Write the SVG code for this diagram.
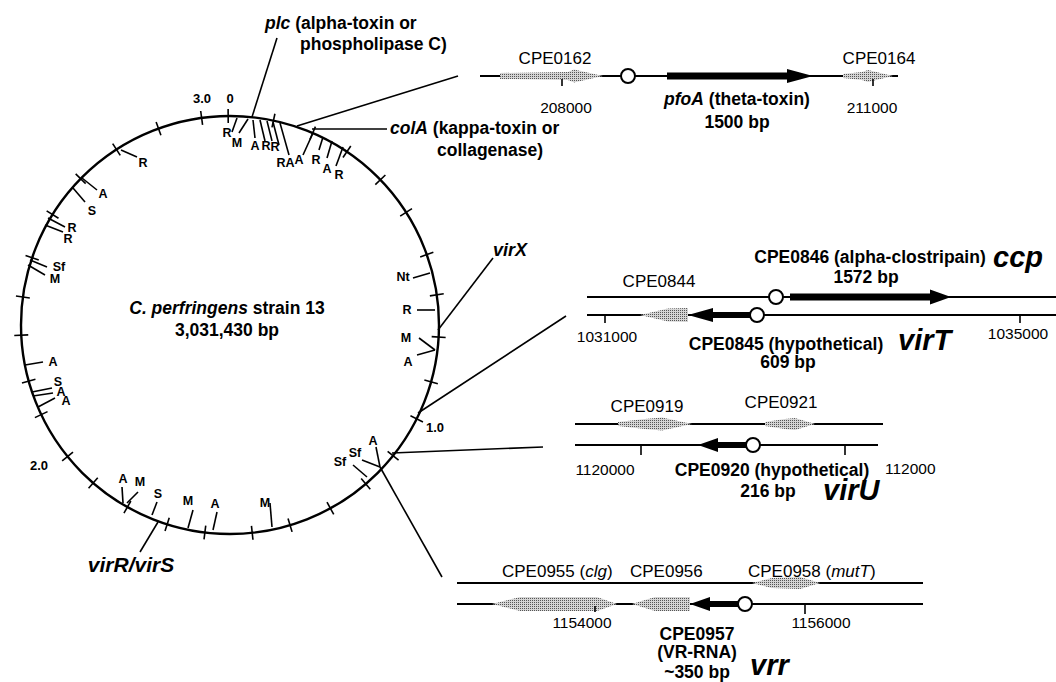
<svg xmlns="http://www.w3.org/2000/svg" width="1056" height="682" viewBox="0 0 1056 682">
<defs>
<pattern id="dots" width="2" height="2" patternUnits="userSpaceOnUse"><rect width="2" height="2" fill="#d4d4d4"/><rect width="1" height="1" fill="#555"/></pattern>
</defs>
<style>
text{font-family:"Liberation Sans",Arial,sans-serif;fill:#000}
.i{font-style:italic}
.ft{font-size:12.5px;font-weight:bold;text-anchor:middle}
.sc{font-size:13px;font-weight:bold;text-anchor:middle}
.lbl{font-size:17.5px;font-weight:bold}
.pos{font-size:15.5px;text-anchor:middle}
.posl{font-size:15.5px;text-anchor:start}
.gn{font-size:17px}
.big{font-size:29px;font-weight:bold;font-style:italic}
.mid{text-anchor:middle}
.ln{stroke:#000;stroke-width:1.6;fill:none}
.tk{stroke:#000;stroke-width:1.6}
.fl{stroke:#000;stroke-width:1.6}
.chr{stroke:#000;stroke-width:2.4;fill:none}
.dna{stroke:#000;stroke-width:2}
.prom{fill:#fff;stroke:#000;stroke-width:2}
.orf{fill:url(#dots)}
.arw{fill:#000}
</style>
<rect width="1056" height="682" fill="#fff"/>

<g id="genome">
<circle class="chr" cx="230" cy="325" r="209"/>
<g id="scale-ticks">
<line class="tk" x1="230" y1="109" x2="230" y2="123" transform="rotate(-0.5 230 325)"/>
<line class="tk" x1="230" y1="109" x2="230" y2="123" transform="rotate(12 230 325)"/>
<line class="tk" x1="230" y1="109" x2="230" y2="123" transform="rotate(23.3 230 325)"/>
<line class="tk" x1="230" y1="109" x2="230" y2="123" transform="rotate(34 230 325)"/>
<line class="tk" x1="230" y1="109" x2="230" y2="123" transform="rotate(46 230 325)"/>
<line class="tk" x1="230" y1="109" x2="230" y2="123" transform="rotate(57.4 230 325)"/>
<line class="tk" x1="230" y1="109" x2="230" y2="123" transform="rotate(70.3 230 325)"/>
<line class="tk" x1="230" y1="109" x2="230" y2="123" transform="rotate(81.7 230 325)"/>
<line class="tk" x1="230" y1="109" x2="230" y2="123" transform="rotate(93.3 230 325)"/>
<line class="tk" x1="230" y1="109" x2="230" y2="123" transform="rotate(105.8 230 325)"/>
<line class="tk" x1="230" y1="109" x2="230" y2="123" transform="rotate(116.7 230 325)"/>
<line class="tk" x1="230" y1="109" x2="230" y2="123" transform="rotate(128.7 230 325)"/>
<line class="tk" x1="230" y1="109" x2="230" y2="123" transform="rotate(139.5 230 325)"/>
<line class="tk" x1="230" y1="109" x2="230" y2="123" transform="rotate(151.3 230 325)"/>
<line class="tk" x1="230" y1="109" x2="230" y2="123" transform="rotate(163.3 230 325)"/>
<line class="tk" x1="230" y1="109" x2="230" y2="123" transform="rotate(173.9 230 325)"/>
<line class="tk" x1="230" y1="109" x2="230" y2="123" transform="rotate(186.9 230 325)"/>
<line class="tk" x1="230" y1="109" x2="230" y2="123" transform="rotate(197.5 230 325)"/>
<line class="tk" x1="230" y1="109" x2="230" y2="123" transform="rotate(209.4 230 325)"/>
<line class="tk" x1="230" y1="109" x2="230" y2="123" transform="rotate(220.9 230 325)"/>
<line class="tk" x1="230" y1="109" x2="230" y2="123" transform="rotate(231 230 325)"/>
<line class="tk" x1="230" y1="109" x2="230" y2="123" transform="rotate(244.6 230 325)"/>
<line class="tk" x1="230" y1="109" x2="230" y2="123" transform="rotate(254.4 230 325)"/>
<line class="tk" x1="230" y1="109" x2="230" y2="123" transform="rotate(267.2 230 325)"/>
<line class="tk" x1="230" y1="109" x2="230" y2="123" transform="rotate(277.7 230 325)"/>
<line class="tk" x1="230" y1="109" x2="230" y2="123" transform="rotate(288.8 230 325)"/>
<line class="tk" x1="230" y1="109" x2="230" y2="123" transform="rotate(301.9 230 325)"/>
<line class="tk" x1="230" y1="109" x2="230" y2="123" transform="rotate(314.4 230 325)"/>
<line class="tk" x1="230" y1="109" x2="230" y2="123" transform="rotate(327.1 230 325)"/>
<line class="tk" x1="230" y1="109" x2="230" y2="123" transform="rotate(340 230 325)"/>
<line class="tk" x1="230" y1="109" x2="230" y2="123" transform="rotate(352.2 230 325)"/>
</g>
<g id="scale-labels">
<text class="sc" x="202" y="103">3.0</text>
<text class="sc" x="230" y="103">0</text>
<text class="sc" x="435" y="432">1.0</text>
<text class="sc" x="39" y="470">2.0</text>
</g>
<g id="features">
<line class="fl" x1="237" y1="118" x2="232" y2="132"/><text class="ft" x="227" y="137">R</text>
<line class="fl" x1="248" y1="119" x2="239" y2="133"/><text class="ft" x="237" y="147">M</text>
<line class="fl" x1="253" y1="120" x2="255" y2="138"/><text class="ft" x="255" y="150">A</text>
<line class="fl" x1="260" y1="120" x2="265" y2="141"/><text class="ft" x="266" y="150">R</text>
<line class="fl" x1="267" y1="121" x2="272" y2="141"/><text class="ft" x="275" y="151">R</text>
<line class="fl" x1="273" y1="122" x2="279" y2="145"/><text class="ft" x="281" y="167">R</text>
<line class="fl" x1="280" y1="123" x2="289" y2="155"/><text class="ft" x="290" y="167">A</text>
<line class="fl" x1="313" y1="133" x2="303" y2="155"/><text class="ft" x="299" y="164">A</text>
<line class="fl" x1="323" y1="137" x2="319" y2="150"/><text class="ft" x="316" y="164">R</text>
<line class="fl" x1="332" y1="141" x2="327" y2="158"/><text class="ft" x="327" y="173">A</text>
<line class="fl" x1="343" y1="147" x2="336" y2="166"/><text class="ft" x="339" y="179">R</text>

<line class="fl" x1="121" y1="150" x2="137" y2="157"/><text class="ft" x="143" y="167">R</text>
<line class="fl" x1="82" y1="178" x2="97" y2="190"/><text class="ft" x="103" y="198">A</text>
<line class="fl" x1="73" y1="188" x2="85" y2="202"/><text class="ft" x="92" y="215">S</text>
<line class="fl" x1="48" y1="218" x2="65" y2="227"/><text class="ft" x="72" y="232">R</text>
<line class="fl" x1="45" y1="225" x2="63" y2="232"/><text class="ft" x="68" y="243">R</text>
<line class="fl" x1="30" y1="260" x2="47" y2="267"/><text class="ft" x="59" y="271">Sf</text>
<line class="fl" x1="28" y1="265" x2="45" y2="275"/><text class="ft" x="55" y="283">M</text>
<line class="fl" x1="25" y1="365" x2="43" y2="362"/><text class="ft" x="53" y="366">A</text>
<line class="fl" x1="32" y1="392" x2="52" y2="388"/><text class="ft" x="58" y="386">S</text>
<line class="fl" x1="33" y1="396" x2="53" y2="393"/><text class="ft" x="61" y="396">A</text>
<line class="fl" x1="38" y1="407" x2="55" y2="398"/><text class="ft" x="66" y="405">A</text>

<line class="fl" x1="123" y1="503" x2="122" y2="487"/><text class="ft" x="123" y="483">A</text>
<line class="fl" x1="127" y1="503" x2="138" y2="492"/><text class="ft" x="140" y="486">M</text>
<line class="fl" x1="152" y1="515" x2="157" y2="502"/><text class="ft" x="158" y="498">S</text>
<line class="fl" x1="188" y1="528" x2="193" y2="510"/><text class="ft" x="188" y="505">M</text>
<line class="fl" x1="213" y1="530" x2="217" y2="512"/><text class="ft" x="215" y="508">A</text>
<line class="fl" x1="272" y1="527" x2="270" y2="503"/><text class="ft" x="265" y="507">M</text>
<line class="fl" x1="367" y1="477" x2="353" y2="465"/><text class="ft" x="340" y="466">Sf</text>
<line class="fl" x1="380" y1="467" x2="362" y2="460"/><text class="ft" x="355" y="457">Sf</text>
<line class="fl" x1="380" y1="467" x2="376" y2="447"/><text class="ft" x="373" y="445">A</text>

<line class="fl" x1="430" y1="273" x2="413" y2="278"/><text class="ft" x="403" y="281">Nt</text>
<line class="fl" x1="435" y1="310" x2="417" y2="310"/><text class="ft" x="407" y="314">R</text>
<line class="fl" x1="435" y1="350" x2="419" y2="338"/><text class="ft" x="406" y="342">M</text>
<line class="fl" x1="435" y1="350" x2="417" y2="355"/><text class="ft" x="408" y="366">A</text>
</g>
<text class="lbl mid" x="227" y="314"><tspan class="i">C. perfringens</tspan> strain 13</text>
<text class="lbl mid" x="227" y="336">3,031,430 bp</text>
</g>

<g id="connectors">
<line class="ln" x1="277" y1="38" x2="252" y2="117"/>
<line class="ln" x1="297" y1="126" x2="458" y2="76"/>
<line class="ln" x1="312" y1="129" x2="387" y2="129"/>
<line class="ln" x1="438" y1="330" x2="493" y2="258"/>
<line class="ln" x1="418" y1="413" x2="566" y2="316"/>
<line class="ln" x1="392" y1="453" x2="543" y2="447"/>
<line class="ln" x1="380" y1="467" x2="442" y2="577"/>
<line class="ln" x1="158" y1="522" x2="140" y2="552"/>
</g>

<g id="plc-label">
<text class="lbl" x="265" y="29"><tspan class="i">plc</tspan> (alpha-toxin or</text>
<text class="lbl" x="300" y="50">phospholipase C)</text>
</g>
<g id="colA-label">
<text class="lbl" x="390" y="134"><tspan class="i">colA</tspan> (kappa-toxin or</text>
<text class="lbl" x="437" y="156">collagenase)</text>
</g>
<g id="virX-label"><text x="493" y="256" font-size="18" font-weight="bold" font-style="italic">virX</text></g>
<g id="virRS-label"><text x="131" y="572" font-size="21" font-weight="bold" font-style="italic" text-anchor="middle">virR/virS</text></g>

<g id="pfoA-map">
<line class="dna" x1="480" y1="76" x2="898" y2="76"/>
<polygon class="orf" points="500,73 568,72 574,69.5 603,76 574,82.5 568,80 500,79"/>
<polygon class="orf" points="843,74 862,72 868,70 893,76 868,82 862,80 843,78"/>
<line class="tk" x1="562" y1="79" x2="562" y2="86"/>
<line class="tk" x1="873" y1="79" x2="873" y2="86"/>
<circle class="prom" cx="628" cy="76" r="7"/>
<polygon class="arw" points="667,72.5 787,72.5 787,69 813,76 787,83 787,79.5 667,79.5"/>
<text class="gn mid" x="555" y="64">CPE0162</text>
<text class="gn mid" x="879" y="64">CPE0164</text>
<text class="pos" x="566" y="113">208000</text>
<text class="pos" x="872" y="113">211000</text>
<text class="lbl mid" x="737" y="105"><tspan class="i">pfoA</tspan> (theta-toxin)</text>
<text class="lbl mid" x="737" y="128">1500 bp</text>
</g>

<g id="virT-map">
<line class="dna" x1="587" y1="297" x2="1056" y2="297"/>
<line class="dna" x1="587" y1="315" x2="1056" y2="315"/>
<line class="tk" x1="605" y1="315" x2="605" y2="323"/>
<line class="tk" x1="1020" y1="315" x2="1020" y2="323"/>
<polygon class="orf" points="640,315 668,308.5 688,308 688,322 668,321.5"/>
<polygon class="arw" points="751,312 713,312 713,308 688,315 713,322 713,318 751,318"/>
<circle class="prom" cx="757" cy="315" r="7"/>
<polygon class="arw" points="790,293.5 930,293.5 930,289.5 951,297 930,304.5 930,300.5 790,300.5"/>
<circle class="prom" cx="776" cy="297" r="7"/>
<text class="gn mid" x="659" y="287">CPE0844</text>
<text class="lbl mid" x="870" y="263">CPE0846 (alpha-clostripain)</text>
<text class="lbl mid" x="866" y="283">1572 bp</text>
<text class="big" x="993" y="267">ccp</text>
<text class="pos" x="607" y="342">1031000</text>
<text class="pos" x="1018" y="339">1035000</text>
<text class="lbl mid" x="786" y="350">CPE0845 (hypothetical)</text>
<text class="lbl mid" x="788" y="368">609 bp</text>
<text class="big" x="898" y="350">virT</text>
</g>

<g id="virU-map">
<line class="dna" x1="575" y1="424" x2="883" y2="424"/>
<line class="dna" x1="575" y1="445" x2="878" y2="445"/>
<polygon class="orf" points="618,422 645,419 662,417.5 692,424 662,430.5 645,429 618,426"/>
<polygon class="orf" points="765,422 785,419 795,418 815,424 795,430 785,429 765,426"/>
<line class="tk" x1="641" y1="445" x2="641" y2="455"/>
<line class="tk" x1="845" y1="445" x2="845" y2="455"/>
<polygon class="arw" points="746,442 718,442 718,438 698,445 718,452 718,448 746,448"/>
<circle class="prom" cx="753" cy="445" r="7"/>
<text class="gn mid" x="647" y="412">CPE0919</text>
<text class="gn mid" x="781" y="408">CPE0921</text>
<text class="pos" x="605" y="475">1120000</text>
<text class="posl" x="885" y="474">112000</text>
<text class="lbl mid" x="772" y="476">CPE0920 (hypothetical)</text>
<text class="lbl mid" x="768" y="497">216 bp</text>
<text class="big" x="823" y="500">virU</text>
</g>

<g id="vrr-map">
<line class="dna" x1="457" y1="583" x2="923" y2="583"/>
<line class="dna" x1="457" y1="604" x2="923" y2="604"/>
<polygon class="orf" points="752,583 772,578 800,577 820,583 800,589 772,588"/>
<polygon class="orf" points="492,604 520,597 597,597 617,604 597,611 520,611"/>
<polygon class="orf" points="632,604 655,597 690,597 690,611 655,611"/>
<line class="tk" x1="595" y1="606" x2="595" y2="612"/>
<line class="tk" x1="805" y1="604" x2="805" y2="614"/>
<polygon class="arw" points="739,601 710,601 710,597 690,604 710,611 710,607 739,607"/>
<circle class="prom" cx="745" cy="604" r="7"/>
<text class="gn" x="502" y="577">CPE0955 (<tspan class="i">clg</tspan>)</text>
<text class="gn" x="630" y="577">CPE0956</text>
<text class="gn" x="748" y="577">CPE0958 (<tspan class="i">mutT</tspan>)</text>
<text class="pos" x="582" y="628">1154000</text>
<text class="pos" x="821" y="628">1156000</text>
<text class="lbl mid" x="697" y="640">CPE0957</text>
<text class="lbl mid" x="697" y="658">(VR-RNA)</text>
<text class="lbl mid" x="697" y="678">~350 bp</text>
<text class="big" x="750" y="675">vrr</text>
</g>
</svg>
